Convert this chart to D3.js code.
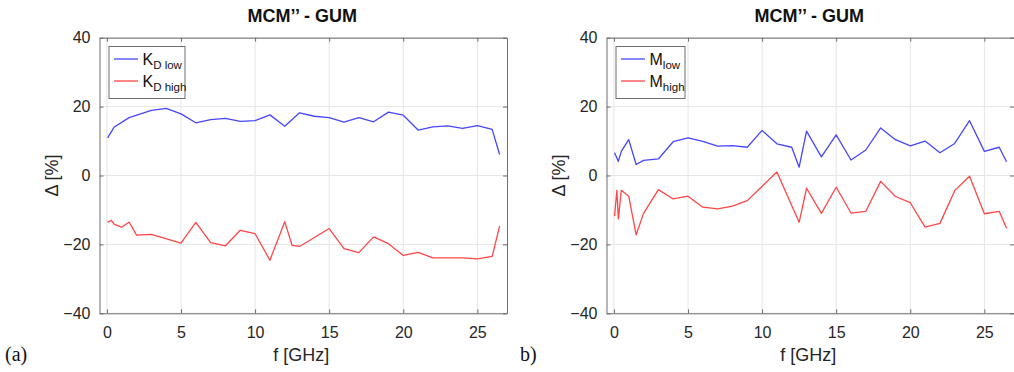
<!DOCTYPE html>
<html>
<head>
<meta charset="utf-8">
<script src="https://cdn.jsdelivr.net/npm/d3@7"></script>
<style>
  body { margin: 0; background: #fff; }
  svg { display: block; font-family: "Liberation Sans", Arial, sans-serif; }
</style>
</head>
<body>
<div id="chart"></div>
<script>
// Frequencies (GHz) of the visible vertices of each trace
const fKdLow = [0.045, 0.5, 1.5, 3, 4, 5, 6, 7, 8, 9, 10, 11, 12, 13, 14, 15, 16, 17, 18, 19, 20, 21, 22, 23, 24, 25, 26, 26.5];
const kdLow = [10.9, 14.1, 16.8, 18.9, 19.5, 17.9, 15.3, 16.2, 16.6, 15.7, 15.9, 17.6, 14.3, 18.2, 17.2, 16.8, 15.5, 16.8, 15.6, 18.4, 17.5, 13.2, 14.1, 14.4, 13.7, 14.5, 13.4, 6.1];

const fKdHigh = [0.045, 0.3, 0.5, 1, 1.5, 2, 3, 5, 6, 7, 8, 9, 10, 11, 12, 12.5, 13, 15, 16, 17, 18, 19, 20, 21, 22, 23, 24, 25, 26, 26.5];
const kdHigh = [-13.6, -13.0, -14.2, -15.0, -13.5, -17.3, -17.1, -19.6, -13.6, -19.5, -20.4, -15.9, -16.9, -24.6, -13.4, -20.3, -20.6, -15.4, -21.2, -22.4, -17.8, -19.8, -23.2, -22.3, -23.9, -23.9, -23.9, -24.2, -23.5, -14.7];

const fM = [0.045, 0.3, 0.5, 1, 1.5, 2, 3, 4, 5, 6, 7, 8, 9, 10, 11, 12, 12.5, 13, 14, 15, 16, 17, 18, 19, 20, 21, 22, 23, 24, 25, 26, 26.5];
const mLow = [6.6, 4.1, 7.0, 10.4, 3.2, 4.4, 4.8, 9.8, 10.9, 9.9, 8.5, 8.7, 8.2, 13.1, 9.2, 8.2, 2.4, 12.9, 5.4, 11.8, 4.5, 7.4, 13.8, 10.4, 8.6, 10.0, 6.6, 9.3, 15.9, 7.0, 8.2, 4.0];

const fMHigh = [0.045, 0.2, 0.3, 0.5, 1, 1.5, 2, 3, 4, 5, 6, 7, 8, 9, 11, 12.5, 13, 14, 15, 16, 17, 18, 19, 20, 21, 22, 23, 24, 25, 26, 26.5];
const mHigh = [-11.8, -4.3, -12.6, -4.3, -6.0, -17.2, -11.0, -4.1, -6.8, -6.0, -9.2, -9.7, -8.9, -7.3, 1.0, -13.6, -3.7, -11.0, -3.4, -10.9, -10.4, -1.7, -6.1, -7.9, -15.0, -13.9, -4.4, -0.2, -11.1, -10.4, -15.3];

const xTicks = [0, 5, 10, 15, 20, 25];
const yTicks = [-40, -20, 0, 20, 40];

const blue = "#4646ff";
const red = "#ff4646";

const svg = d3.select("#chart").append("svg")
  .attr("width", 1014)
  .attr("height", 372);

// One MATLAB-style panel: boxed axes, grid, inward ticks, two traces and a legend
function drawPanel(opts) {
  const x = d3.scaleLinear().domain([-0.5, 27]).range([opts.left, opts.left + 407.5]);
  const y = d3.scaleLinear().domain([-40, 40]).range([313.3, 37.7]);
  const g = svg.append("g");

  // grid
  g.selectAll(".vgrid").data(xTicks).enter().append("line")
    .attr("x1", d => x(d)).attr("x2", d => x(d))
    .attr("y1", y(40)).attr("y2", y(-40))
    .attr("stroke", "#e6e6e6").attr("stroke-width", 1);
  g.selectAll(".hgrid").data(yTicks).enter().append("line")
    .attr("x1", x.range()[0]).attr("x2", x.range()[1])
    .attr("y1", d => y(d)).attr("y2", d => y(d))
    .attr("stroke", "#e6e6e6").attr("stroke-width", 1);

  // axes box with inward ticks
  const xAxisB = d3.axisBottom(x).tickValues(xTicks).tickSizeInner(-4).tickSizeOuter(0).tickPadding(13);
  const xAxisT = d3.axisTop(x).tickValues(xTicks).tickSizeInner(-4).tickSizeOuter(0).tickFormat("");
  const yAxisL = d3.axisLeft(y).tickValues(yTicks).tickSizeInner(-4).tickSizeOuter(0).tickPadding(9);
  const yAxisR = d3.axisRight(y).tickValues(yTicks).tickSizeInner(-4).tickSizeOuter(0).tickFormat("");

  const axes = [
    g.append("g").attr("transform", `translate(0,${y(-40)})`).call(xAxisB),
    g.append("g").attr("transform", `translate(0,${y(40)})`).call(xAxisT),
    g.append("g").attr("transform", `translate(${x.range()[0]},0)`).call(yAxisL),
    g.append("g").attr("transform", `translate(${x.range()[1]},0)`).call(yAxisR)
  ];
  axes.forEach(a => {
    a.select(".domain").attr("stroke", "#6e6e6e");
    a.selectAll(".tick line").attr("stroke", "#6e6e6e");
    a.selectAll("text").attr("fill", "#262626").style("font-size", "16px")
      .style("font-family", "'Liberation Sans', Arial, sans-serif");
  });

  // traces
  const line = d3.line().x(d => x(d[0])).y(d => y(d[1]));
  opts.series.forEach(s => {
    g.append("path")
      .datum(d3.zip(s.f, s.v))
      .attr("d", line)
      .attr("fill", "none")
      .attr("stroke", s.color)
      .attr("stroke-width", 1.3)
      .attr("stroke-linejoin", "round");
  });

  // title
  g.append("text")
    .attr("x", (x.range()[0] + x.range()[1]) / 2 - 1)
    .attr("y", 21.5)
    .attr("text-anchor", "middle")
    .style("font-size", "18px").style("font-weight", "bold")
    .attr("fill", "#111")
    .text("MCM’’ - GUM");

  // axis labels
  g.append("text")
    .attr("x", (x.range()[0] + x.range()[1]) / 2 - 2)
    .attr("y", 361)
    .attr("text-anchor", "middle")
    .style("font-size", "18px").attr("fill", "#262626")
    .text("f [GHz]");
  g.append("text")
    .attr("transform", `translate(${opts.left - 42},${y(0)}) rotate(-90)`)
    .attr("text-anchor", "middle")
    .style("font-size", "18px").attr("fill", "#262626")
    .text("Δ [%]");

  // legend
  const lg = g.append("g").attr("transform", `translate(${opts.left + 9.5},46.5)`);
  lg.append("rect")
    .attr("width", opts.legendWidth).attr("height", 52)
    .attr("fill", "#fff").attr("stroke", "#6e6e6e").attr("stroke-width", 1);
  opts.series.forEach((s, i) => {
    const ly = 12.5 + i * 22;
    lg.append("line")
      .attr("x1", 5).attr("x2", 29).attr("y1", ly).attr("y2", ly)
      .attr("stroke", s.color).attr("stroke-width", 1.3);
    const t = lg.append("text")
      .attr("x", 33.5).attr("y", ly + 6)
      .style("font-size", "16px").attr("fill", "#111");
    t.append("tspan").text(s.name);
    t.append("tspan").attr("dy", 3.5).style("font-size", "11.5px").text(s.sub);
  });

  // panel tag
  svg.append("text")
    .attr("x", opts.tagX).attr("y", 361)
    .style("font-family", "'Liberation Serif', 'Times New Roman', serif")
    .style("font-size", "20px").attr("fill", "#111")
    .text(opts.tag);
}

drawPanel({
  left: 99.5,
  legendWidth: 76,
  tag: "(a)",
  tagX: 5,
  series: [
    { f: fKdLow, v: kdLow, color: blue, name: "K", sub: "D low" },
    { f: fKdHigh, v: kdHigh, color: red, name: "K", sub: "D high" }
  ]
});

drawPanel({
  left: 606.5,
  legendWidth: 69,
  tag: "b)",
  tagX: 520,
  series: [
    { f: fM, v: mLow, color: blue, name: "M", sub: "low" },
    { f: fMHigh, v: mHigh, color: red, name: "M", sub: "high" }
  ]
});
</script>
</body>
</html>
